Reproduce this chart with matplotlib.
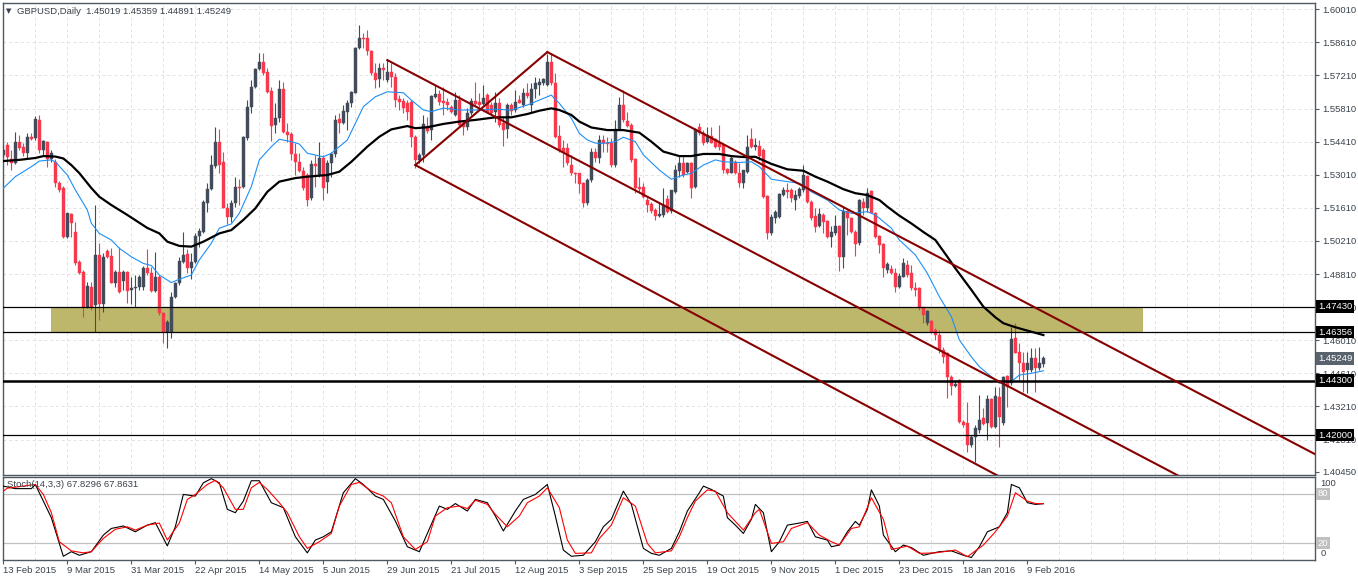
import matplotlib
matplotlib.use("Agg")
import matplotlib.pyplot as plt
import matplotlib.transforms as mtrans
from matplotlib.patches import Rectangle
import numpy as np

plt.rcParams['font.family'] = ['Liberation Sans', 'DejaVu Sans']

# daily candles GBPUSD, bar 0 = 13 Feb 2015
opens = [
    1.5384, 1.5427, 1.5366, 1.5349, 1.5441, 1.5420, 1.5392, 1.5462, 1.5455, 1.5532,
    1.5406, 1.5441, 1.5366, 1.5356, 1.5265, 1.5244, 1.5039, 1.5135, 1.5060, 1.4932,
    1.4889, 1.4740, 1.4827, 1.4750, 1.4961, 1.4754, 1.4978, 1.4957, 1.4842, 1.4891,
    1.4853, 1.4891, 1.4813, 1.4820, 1.4827, 1.4827, 1.4905, 1.4884, 1.4810, 1.4870,
    1.4715, 1.4634, 1.4634, 1.4782, 1.4842, 1.4933, 1.4964, 1.4905, 1.4930, 1.5042,
    1.5060, 1.5183, 1.5239, 1.5339, 1.5438, 1.5353, 1.5161, 1.5123, 1.5183, 1.5250,
    1.5248, 1.5455, 1.5586, 1.5673, 1.5748, 1.5779, 1.5734, 1.5655, 1.5511, 1.5540,
    1.5664, 1.5483, 1.5473, 1.5389, 1.5356, 1.5318, 1.5300, 1.5201, 1.5346, 1.5300,
    1.5370, 1.5271, 1.5349, 1.5387, 1.5535, 1.5518, 1.5565, 1.5603, 1.5648, 1.5836,
    1.5881, 1.5878, 1.5826, 1.5730, 1.5705, 1.5751, 1.5702, 1.5737, 1.5713, 1.5621,
    1.5613, 1.5606, 1.5610, 1.5462, 1.5363, 1.5384, 1.5507, 1.5490, 1.5631, 1.5642,
    1.5614, 1.5610, 1.5589, 1.5554, 1.5617, 1.5518, 1.5504, 1.5561, 1.5614, 1.5607,
    1.5600, 1.5638, 1.5596, 1.5568, 1.5606, 1.5518, 1.5493, 1.5596, 1.5575, 1.5617,
    1.5596, 1.5645, 1.5596, 1.5662, 1.5680, 1.5688, 1.5680, 1.5779, 1.5688, 1.5465,
    1.5413, 1.5413, 1.5342, 1.5309, 1.5307, 1.5265, 1.5180, 1.5279, 1.5398, 1.5370,
    1.5448, 1.5436, 1.5434, 1.5342, 1.5493, 1.5596, 1.5529, 1.5511, 1.5366, 1.5250,
    1.5248, 1.5194, 1.5177, 1.5152, 1.5128, 1.5131, 1.5197, 1.5147, 1.5229, 1.5318,
    1.5349, 1.5314, 1.5349, 1.5248, 1.5504, 1.5476, 1.5441, 1.5465, 1.5451, 1.5441,
    1.5427, 1.5324, 1.5309, 1.5356, 1.5307, 1.5265, 1.5314, 1.5451, 1.5420, 1.5422,
    1.5406, 1.5211, 1.5053, 1.5117, 1.5121, 1.5215, 1.5236, 1.5236, 1.5194, 1.5211,
    1.5236, 1.5296, 1.5187, 1.5126, 1.5084, 1.5131, 1.5106, 1.5036, 1.5053, 1.5084,
    1.4954, 1.5149, 1.5117, 1.5060, 1.5011, 1.5187, 1.5159, 1.5233, 1.5140, 1.5042,
    1.5008, 1.4898, 1.4901, 1.4884, 1.4827, 1.4870, 1.4919, 1.4884, 1.4820, 1.4820,
    1.4740, 1.4672, 1.4683, 1.4644, 1.4623, 1.4560, 1.4546, 1.4447, 1.4408, 1.4433,
    1.4256, 1.4249, 1.4158, 1.4193, 1.4221, 1.4271, 1.4249, 1.4351, 1.4235, 1.4362,
    1.4249, 1.4450, 1.4419, 1.4609, 1.4552, 1.4503, 1.4475, 1.4475, 1.4524, 1.4482,
    1.45019]
highs = [
    1.5427, 1.5441, 1.5406, 1.5480, 1.5469, 1.5434, 1.5476, 1.5479, 1.5549, 1.5554,
    1.5448, 1.5445, 1.5406, 1.5366, 1.5274, 1.5253, 1.5140, 1.5139, 1.5102, 1.4940,
    1.4898, 1.4848, 1.4848, 1.5173, 1.5011, 1.4969, 1.4985, 1.4990, 1.4898, 1.4996,
    1.4898, 1.4894, 1.4870, 1.4877, 1.4877, 1.4915, 1.4985, 1.4912, 1.4975, 1.4875,
    1.4720, 1.4686, 1.4806, 1.4847, 1.4954, 1.5060, 1.4985, 1.4969, 1.5053, 1.5074,
    1.5194, 1.5265, 1.5384, 1.5502, 1.5493, 1.5398, 1.5183, 1.5194, 1.5293, 1.5282,
    1.5465, 1.5617, 1.5702, 1.5751, 1.5815, 1.5815, 1.5751, 1.5673, 1.5603, 1.5702,
    1.5694, 1.5518, 1.5483, 1.5434, 1.5392, 1.5335, 1.5307, 1.5363, 1.5384, 1.5441,
    1.5384, 1.5363, 1.5398, 1.5554, 1.5561, 1.5596, 1.5617, 1.5655, 1.5842, 1.5934,
    1.5899, 1.5913, 1.5829, 1.5772, 1.5772, 1.5772, 1.5789, 1.5772, 1.5730, 1.5638,
    1.5624, 1.5617, 1.5617, 1.5469, 1.5392, 1.5554, 1.5546, 1.5638, 1.5680, 1.5659,
    1.5673, 1.5624, 1.5596, 1.5652, 1.5638, 1.5532, 1.5582, 1.5624, 1.5692, 1.5645,
    1.5680, 1.5645, 1.5610, 1.5652, 1.5624, 1.5546, 1.5603, 1.5603, 1.5659, 1.5638,
    1.5666, 1.5688, 1.5688, 1.5716, 1.5709, 1.5710, 1.5812, 1.5815, 1.5730, 1.5511,
    1.5448, 1.5434, 1.5384, 1.5314, 1.5309, 1.5271, 1.5287, 1.5413, 1.5413, 1.5469,
    1.5469, 1.5462, 1.5455, 1.5532, 1.5631, 1.5659, 1.5568, 1.5518, 1.5370, 1.5293,
    1.5265, 1.5208, 1.5187, 1.5159, 1.5180, 1.5244, 1.5215, 1.5236, 1.5342, 1.5384,
    1.5384, 1.5356, 1.5356, 1.5497, 1.5518, 1.5490, 1.5504, 1.5504, 1.5455, 1.5511,
    1.5434, 1.5328, 1.5384, 1.5363, 1.5349, 1.5321, 1.5469, 1.5497, 1.5455, 1.5448,
    1.5413, 1.5215, 1.5135, 1.5152, 1.5222, 1.5250, 1.5265, 1.5244, 1.5236, 1.5250,
    1.5342, 1.5300, 1.5194, 1.5159, 1.5159, 1.5138, 1.5109, 1.5084, 1.5131, 1.5088,
    1.5163, 1.5152, 1.5123, 1.5067, 1.5197, 1.5201, 1.5244, 1.5236, 1.5145, 1.5046,
    1.5011, 1.4933, 1.4919, 1.4905, 1.4884, 1.4947, 1.4940, 1.4919, 1.4848, 1.4827,
    1.4743, 1.4729, 1.4686, 1.4651, 1.4644, 1.4573, 1.4552, 1.4454, 1.4433, 1.4436,
    1.4263, 1.4341, 1.4200, 1.4242, 1.4369, 1.4313, 1.4369, 1.4355, 1.4404, 1.4404,
    1.4450, 1.4452, 1.4658, 1.4672, 1.4588, 1.4552, 1.4552, 1.4567, 1.4567, 1.4573,
    1.45359]
lows = [
    1.5377, 1.5342, 1.5321, 1.5345, 1.5406, 1.5380, 1.5370, 1.5448, 1.5448, 1.5392,
    1.5380, 1.5335, 1.5356, 1.5250, 1.5228, 1.5033, 1.5032, 1.5036, 1.4919, 1.4881,
    1.4700, 1.4736, 1.4729, 1.4637, 1.4686, 1.4720, 1.4947, 1.4842, 1.4827, 1.4799,
    1.4813, 1.4757, 1.4754, 1.4743, 1.4813, 1.4813, 1.4877, 1.4806, 1.4806, 1.4708,
    1.4590, 1.4567, 1.4609, 1.4780, 1.4834, 1.4926, 1.4886, 1.4859, 1.4926, 1.4996,
    1.5053, 1.5145, 1.5236, 1.5328, 1.5307, 1.5159, 1.5092, 1.5102, 1.5166, 1.5173,
    1.5244, 1.5448, 1.5561, 1.5666, 1.5744, 1.5723, 1.5645, 1.5445, 1.5476, 1.5525,
    1.5476, 1.5441, 1.5363, 1.5300, 1.5314, 1.5236, 1.5169, 1.5194, 1.5250, 1.5293,
    1.5194, 1.5222, 1.5293, 1.5377, 1.5476, 1.5515, 1.5490, 1.5586, 1.5645, 1.5831,
    1.5836, 1.5807, 1.5723, 1.5666, 1.5673, 1.5702, 1.5694, 1.5673, 1.5589, 1.5575,
    1.5561, 1.5532, 1.5420, 1.5328, 1.5349, 1.5356, 1.5476, 1.5448, 1.5624, 1.5596,
    1.5554, 1.5575, 1.5561, 1.5550, 1.5504, 1.5469, 1.5490, 1.5554, 1.5596, 1.5589,
    1.5596, 1.5561, 1.5554, 1.5525, 1.5504, 1.5422, 1.5455, 1.5554, 1.5568, 1.5603,
    1.5589, 1.5625, 1.5561, 1.5624, 1.5638, 1.5680, 1.5675, 1.5680, 1.5455, 1.5398,
    1.5335, 1.5342, 1.5300, 1.5265, 1.5222, 1.5166, 1.5173, 1.5271, 1.5356, 1.5349,
    1.5398, 1.5398, 1.5332, 1.5335, 1.5490, 1.5525, 1.5504, 1.5356, 1.5222, 1.5229,
    1.5201, 1.5145, 1.5140, 1.5109, 1.5123, 1.5123, 1.5140, 1.5140, 1.5222, 1.5293,
    1.5293, 1.5307, 1.5201, 1.5244, 1.5469, 1.5427, 1.5434, 1.5434, 1.5413, 1.5406,
    1.5309, 1.5304, 1.5307, 1.5303, 1.5250, 1.5244, 1.5307, 1.5413, 1.5406, 1.5363,
    1.5201, 1.5028, 1.5046, 1.5095, 1.5117, 1.5211, 1.5201, 1.5187, 1.5152, 1.5201,
    1.5229, 1.5180, 1.5109, 1.5060, 1.5081, 1.5056, 1.5032, 1.4994, 1.5046, 1.4895,
    1.4905, 1.5046, 1.5056, 1.4957, 1.5004, 1.5131, 1.5145, 1.5138, 1.5032, 1.4969,
    1.4867, 1.4886, 1.4881, 1.4806, 1.4820, 1.4867, 1.4870, 1.4813, 1.4788, 1.4729,
    1.4672, 1.4665, 1.4630, 1.4602, 1.4546, 1.4503, 1.4355, 1.4369, 1.4404, 1.4249,
    1.4235, 1.4129, 1.4150, 1.4087, 1.4207, 1.4242, 1.4179, 1.4228, 1.4228, 1.4150,
    1.4242, 1.4320, 1.4411, 1.4546, 1.4433, 1.4383, 1.4376, 1.4468, 1.4383, 1.4475,
    1.44891]
closes = [
    1.5406, 1.5377, 1.5352, 1.5441, 1.5413, 1.5394, 1.5462, 1.5453, 1.5535, 1.5406,
    1.5445, 1.5366, 1.5392, 1.5265, 1.5236, 1.5039, 1.5138, 1.5095, 1.4926, 1.4886,
    1.4743, 1.4831, 1.4743, 1.4961, 1.4754, 1.4954, 1.4954, 1.4842, 1.4891, 1.4806,
    1.4891, 1.4810, 1.4822, 1.4827, 1.4870, 1.4905, 1.4884, 1.4810, 1.4870, 1.4715,
    1.4634, 1.4679, 1.4785, 1.4842, 1.4937, 1.4961, 1.4908, 1.4930, 1.5042, 1.5064,
    1.5187, 1.5239, 1.5342, 1.5441, 1.5342, 1.5161, 1.5123, 1.5183, 1.5250, 1.5244,
    1.5462, 1.5586, 1.5673, 1.5748, 1.5776, 1.5730, 1.5652, 1.5507, 1.5542, 1.5664,
    1.5483, 1.5469, 1.5387, 1.5356, 1.5318, 1.5244, 1.5194, 1.5346, 1.5338, 1.5370,
    1.5244, 1.5349, 1.5389, 1.5532, 1.5518, 1.5572, 1.5606, 1.5652, 1.5836, 1.5878,
    1.5875, 1.5826, 1.5730, 1.5702, 1.5751, 1.5744, 1.5737, 1.5713, 1.5617, 1.5610,
    1.5582, 1.5568, 1.5462, 1.5363, 1.5384, 1.5515, 1.5487, 1.5634, 1.5642, 1.5610,
    1.5603, 1.5596, 1.5568, 1.5617, 1.5511, 1.5502, 1.5561, 1.5614, 1.5600, 1.5596,
    1.5624, 1.5568, 1.5563, 1.5603, 1.5511, 1.5490, 1.5596, 1.5572, 1.5610, 1.5606,
    1.5645, 1.5634, 1.5662, 1.5688, 1.5694, 1.5705, 1.5779, 1.5688, 1.5462, 1.5406,
    1.5398, 1.5349, 1.5307, 1.5304, 1.5262, 1.5180, 1.5279, 1.5398, 1.5370, 1.5448,
    1.5434, 1.5431, 1.5342, 1.5493, 1.5596, 1.5532, 1.5507, 1.5363, 1.5244, 1.5239,
    1.5205, 1.5173, 1.5147, 1.5126, 1.5134, 1.5173, 1.5145, 1.5236, 1.5321, 1.5349,
    1.5300, 1.5349, 1.5244, 1.5490, 1.5476, 1.5434, 1.5469, 1.5436, 1.5420, 1.5420,
    1.5321, 1.5307, 1.5370, 1.5307, 1.5265, 1.5321, 1.5420, 1.5417, 1.5427, 1.5380,
    1.5208, 1.5053, 1.5121, 1.5145, 1.5219, 1.5236, 1.5229, 1.5201, 1.5215, 1.5239,
    1.5300, 1.5187, 1.5119, 1.5081, 1.5134, 1.5102, 1.5036, 1.5060, 1.5084, 1.4954,
    1.5149, 1.5117, 1.5060, 1.5008, 1.5194, 1.5159, 1.5225, 1.5140, 1.5039, 1.5004,
    1.4905, 1.4923, 1.4884, 1.4827, 1.4873, 1.4929, 1.4877, 1.4820, 1.4813, 1.4736,
    1.4708, 1.4726, 1.4637, 1.4623, 1.4560, 1.4531, 1.4447, 1.4408, 1.4416, 1.4256,
    1.4242, 1.4158, 1.4193, 1.4228, 1.4263, 1.4246, 1.4351, 1.4235, 1.4365, 1.4277,
    1.4447, 1.4404, 1.4606, 1.4548, 1.4503, 1.4468, 1.4503, 1.4524, 1.4482, 1.4503,
    1.45249]

# moving averages (bar, price)
ma_fast_bar = [0, 3, 7, 9, 12, 13, 16, 18, 21, 22, 24, 27, 29, 32, 35, 37, 39, 42, 44, 47,
               49, 52, 54, 57, 59, 62, 64, 67, 69, 72, 74, 76, 80, 82, 86, 90, 93, 96, 100, 102,
               105, 107, 110, 114, 118, 123, 127, 131, 134, 137, 139, 142, 144, 146, 148, 150, 153, 155, 158, 160,
               164, 167, 170, 172, 175, 178, 180, 184, 187, 189, 192, 196, 199, 202, 206, 209, 212, 216, 218, 222,
               224, 228, 231, 234, 237, 239, 242, 244, 247, 249, 252, 254, 257, 260]
ma_fast = [1.5244, 1.5293, 1.5335, 1.5359, 1.5364, 1.5356, 1.5300, 1.5237, 1.5152, 1.5096,
           1.5053, 1.5025, 1.4990, 1.4954, 1.4926, 1.4917, 1.4877, 1.4845, 1.4859, 1.4877,
           1.4941, 1.5011, 1.5075, 1.5093, 1.5138, 1.5251, 1.5364, 1.5420, 1.5451, 1.5441,
           1.5431, 1.5392, 1.5377, 1.5392, 1.5448, 1.5589, 1.5631, 1.5652, 1.5648, 1.5617,
           1.5575, 1.5568, 1.5583, 1.5575, 1.5575, 1.5578, 1.5575, 1.5596, 1.5617, 1.5638,
           1.5603, 1.5540, 1.5476, 1.5448, 1.5435, 1.5434, 1.5441, 1.5460, 1.5441, 1.5385,
           1.5321, 1.5282, 1.5300, 1.5307, 1.5342, 1.5364, 1.5356, 1.5353, 1.5356, 1.5335,
           1.5282, 1.5272, 1.5265, 1.5229, 1.5194, 1.5152, 1.5138, 1.5145, 1.5131, 1.5075,
           1.5025, 1.4962, 1.4884, 1.4785, 1.4701, 1.4602, 1.4531, 1.4489, 1.4447, 1.4419,
           1.4426, 1.4454, 1.4461, 1.4472]
ma_slow_bar = [0, 4, 8, 10, 13, 15, 17, 19, 22, 24, 27, 31, 34, 36, 39, 41, 44, 47, 50, 54,
               57, 60, 63, 66, 69, 73, 76, 81, 84, 87, 91, 94, 97, 101, 103, 106, 110, 114, 118, 123,
               127, 131, 134, 137, 139, 142, 144, 147, 151, 155, 159, 162, 165, 169, 172, 175, 179, 182, 185, 188,
               192, 196, 200, 203, 206, 210, 213, 216, 219, 221, 224, 227, 230, 233, 236, 238, 242, 245, 248, 250, 253,
               257, 260]
ma_slow = [1.5359, 1.5364, 1.5372, 1.5380, 1.5378, 1.5370, 1.5342, 1.5308, 1.5245, 1.5208,
           1.5173, 1.5131, 1.5098, 1.5076, 1.5053, 1.5018, 1.5000, 1.4997, 1.5018, 1.5053,
           1.5067, 1.5110, 1.5159, 1.5229, 1.5272, 1.5287, 1.5293, 1.5300, 1.5314, 1.5356,
           1.5420, 1.5462, 1.5493, 1.5507, 1.5498, 1.5502, 1.5516, 1.5526, 1.5533, 1.5544,
           1.5544, 1.5558, 1.5572, 1.5582, 1.5575, 1.5554, 1.5526, 1.5501, 1.5490, 1.5490,
           1.5479, 1.5441, 1.5399, 1.5380, 1.5380, 1.5389, 1.5389, 1.5380, 1.5376, 1.5377,
           1.5347, 1.5324, 1.5318, 1.5293, 1.5272, 1.5240, 1.5223, 1.5215, 1.5194, 1.5166,
           1.5128, 1.5095, 1.5059, 1.5025, 1.4954, 1.4905, 1.4814, 1.4743, 1.4698, 1.4673, 1.4656,
           1.4637, 1.4623]

# stochastic (14,3,3)
stoch_k_bar = [0, 3, 7, 8, 11, 12, 14, 15, 17, 19, 22, 25, 27, 30, 33, 36, 38, 41, 43, 45,
               48, 50, 52, 54, 56, 58, 60, 62, 64, 67, 70, 73, 76, 78, 80, 82, 85, 88, 90, 93,
               95, 98, 101, 104, 106, 109, 111, 113, 116, 118, 121, 123, 125, 128, 130, 133, 136, 138, 140, 142,
               145, 148, 150, 152, 155, 157, 160, 162, 164, 167, 169, 171, 174, 175, 177, 180, 181, 183, 185, 187,
               188, 190, 192, 194, 196, 199, 201, 203, 206, 207, 209, 211, 213, 214, 216, 217, 219, 220, 223, 225,
               227, 230, 232, 234, 237, 240, 242, 244, 246, 249, 251, 252, 254, 256, 258, 260]
stoch_k = [89, 86, 86, 91, 61, 51, 20, 4.5, 10, 5.7, 10, 30, 38, 41, 34, 42, 45, 17, 40, 79,
           77, 93, 98, 93, 61, 57, 71, 95.5, 95.5, 69, 63, 28, 8.6, 24, 28, 34, 81, 98, 91, 77,
           73, 47, 16, 10, 32, 65, 61, 68, 59, 73, 69, 53, 35, 59, 73, 79, 91, 53, 12, 4.5,
           5.7, 22, 40, 49, 83, 67, 14, 8, 5.7, 14, 34, 59, 81, 89, 85, 77, 51, 42, 32, 49,
           67, 57, 10, 22, 42, 44.5, 46.5, 28, 24, 16, 18, 34, 46.5, 42, 61, 84.5, 65, 30, 10, 18,
           15, 5.7, 8, 10, 11, 5.7, 3, 16, 34, 40, 57, 91, 87, 69, 67, 67.83]
stoch_d_bar = [0, 1, 8, 10, 12, 14, 17, 20, 22, 25, 28, 31, 33, 36, 39, 41, 44, 46, 48, 51,
               53, 55, 58, 60, 62, 64, 66, 69, 71, 74, 76, 79, 82, 84, 87, 89, 92, 95, 97, 100,
               103, 106, 108, 111, 114, 116, 118, 121, 123, 126, 129, 131, 134, 136, 139, 141, 143, 147, 149, 152,
               155, 158, 161, 163, 167, 169, 171, 173, 176, 178, 181, 185, 188, 189, 192, 195, 197, 201, 204, 207,
               209, 212, 214, 217, 220, 222, 226, 229, 233, 238, 241, 245, 248, 251, 253, 256, 258, 260]
stoch_d = [83, 86.5, 91, 79, 57, 22, 11, 8.6, 10, 26, 37, 40, 36, 42, 44.5, 24, 44.5, 73, 79, 91,
           96, 87, 61, 61, 87, 93.5, 85, 69, 57, 28, 14, 22, 32, 65, 91, 93.5, 83, 77, 69, 28,
           12.7, 22, 53, 63, 65, 62, 72, 67, 55, 40, 53, 69, 77, 87, 63, 24, 8, 8.6, 26, 42,
           75, 65, 20, 8.6, 11, 28, 51, 71, 84.5, 83, 57, 36, 57, 61, 20, 22, 38, 45, 30, 22,
           18, 38, 40, 75, 49, 12.7, 16.7, 8, 8.6, 12, 4, 18, 34, 53, 81, 71, 68, 67.86]

# drawn objects
levels_thin = [1.47430, 1.46356, 1.42000]
level_thick = 1.44300
zone_bars = [12, 285]
zone_prices = [1.46356, 1.47430]
chan_upper = [(136, 1.5820), (260, 1.4721)]
chan_mid = [(96, 1.5786), (260, 1.4328)]
chan_lower = [(103, 1.5342), (221, 1.4277)]
last_price = 1.45249

price_ticks = [1.60010, 1.58610, 1.57210, 1.55810, 1.54410, 1.53010, 1.51610, 1.50210,
               1.48810, 1.47410, 1.46010, 1.44610, 1.43210, 1.41810, 1.40450]
date_bars = list(range(0, 257, 16))
date_labels = ["13 Feb 2015", "9 Mar 2015", "31 Mar 2015", "22 Apr 2015", "14 May 2015",
               "5 Jun 2015", "29 Jun 2015", "21 Jul 2015", "12 Aug 2015", "3 Sep 2015",
               "25 Sep 2015", "19 Oct 2015", "9 Nov 2015", "1 Dec 2015", "23 Dec 2015",
               "18 Jan 2016", "9 Feb 2016"]

BULL = '#414b5a'
BEAR = '#f43a4c'
FRAME = '#4f5963'
TXT = '#39424c'
GRID = '#e2e2e2'
FS = 6.8

fig = plt.figure(figsize=(13.58, 5.81), dpi=100)
ax = fig.add_axes([3/1358, 1-475/581, 1312/1358, 472/581])
ax2 = fig.add_axes([3/1358, 1-560/581, 1312/1358, 83/581])

xmin, xmax = -0.08, 327.9
for a in (ax, ax2):
    a.set_xlim(xmin, xmax)
    for s in a.spines.values():
        s.set_color(FRAME)
        s.set_linewidth(1)
    a.set_xticks(np.arange(0, 328, 8), minor=True)
    a.grid(which='minor', axis='x', color=GRID, linestyle=(0, (3, 3)), linewidth=0.7)
    a.set_axisbelow(True)

ax.set_ylim(1.40310, 1.60276)
ax.set_xticks([])
ax.tick_params(axis='x', which='both', length=0)
ax.yaxis.tick_right()
ax.set_yticks(price_ticks)
ax.set_yticklabels([f"{v:.5f}" for v in price_ticks])
ax.tick_params(axis='y', direction='out', length=3, width=0.8, pad=2,
               labelsize=FS, colors=FRAME, labelcolor=TXT)
for v in price_ticks[:-1]:
    ax.axhline(v, color=GRID, linestyle=(0, (3, 3)), linewidth=0.7, zorder=0)

# zone and horizontal levels
ax.add_patch(Rectangle((zone_bars[0], zone_prices[0]), zone_bars[1] - zone_bars[0],
                       zone_prices[1] - zone_prices[0], facecolor='#bdb76b',
                       edgecolor='none', zorder=1))
for lv in levels_thin:
    ax.axhline(lv, color='black', linewidth=0.9, zorder=5)
ax.axhline(level_thick, color='black', linewidth=1.8, zorder=5)

# candles
o = np.array(opens)
h = np.array(highs)
l = np.array(lows)
c = np.array(closes)
x = np.arange(len(c))
col = np.where(c >= o, BULL, BEAR)
ax.vlines(x, l, h, colors=col, linewidth=0.8, zorder=3)
ax.bar(x, c - o, bottom=o, width=0.72, color=col, edgecolor=col,
       linewidth=0.3, zorder=3)

# moving averages
ax.plot(ma_fast_bar, ma_fast, color='#1e8ff5', linewidth=0.8, zorder=4)
ax.plot(ma_slow_bar, ma_slow, color='black', linewidth=1.6, zorder=4)

# channel
def ray(pts):
    (x1, y1), (x2, y2) = pts
    k = (y2 - y1) / (x2 - x1)
    return [x1, xmax + 5], [y1, y1 + k * (xmax + 5 - x1)]

for pts in (chan_upper, chan_mid, chan_lower):
    xs, ys = ray(pts)
    ax.plot(xs, ys, color='#860000', linewidth=1.5, zorder=6)
ax.plot([chan_lower[0][0], chan_upper[0][0]], [chan_lower[0][1], chan_upper[0][1]],
        color='#860000', linewidth=1.5, zorder=6)

# right-hand price boxes
tr = mtrans.blended_transform_factory(ax.transAxes, ax.transData)
for lv in levels_thin + [level_thick]:
    ax.text(1.0022, lv, f"{lv:.5f}", transform=tr, ha='left', va='center',
            fontsize=FS, color='white', zorder=20, clip_on=False,
            bbox=dict(boxstyle='square,pad=0.2', fc='black', ec='none'))
ax.text(1.0022, last_price, f"{last_price:.5f}", transform=tr, ha='left', va='center',
        fontsize=FS, color='white', zorder=20, clip_on=False,
        bbox=dict(boxstyle='square,pad=0.2', fc='#59636e', ec='none'))

# title
fig.text(6/1358, 1 - 11/581, "\u25bc", fontsize=5, color=TXT, va='center',
         family=['DejaVu Sans'])
fig.text(17/1358, 1 - 11/581, "GBPUSD,Daily  1.45019 1.45359 1.44891 1.45249",
         fontsize=FS, color=TXT, va='center')

# stochastic window
ax2.set_ylim(0, 100)
ax2.set_yticks([])
ax2.axhline(80, color='#c0c0c0', linewidth=0.9, zorder=1)
ax2.axhline(20, color='#c0c0c0', linewidth=0.9, zorder=1)
ax2.plot(stoch_k_bar, stoch_k, color='black', linewidth=0.8, zorder=3)
ax2.plot(stoch_d_bar, stoch_d, color='#ff0000', linewidth=0.8, zorder=3)
ax2.set_xticks(date_bars)
ax2.set_xticklabels(date_labels, ha='left')
ax2.tick_params(axis='x', which='major', direction='out', length=3, width=0.8,
                pad=1.5, labelsize=FS, colors=FRAME, labelcolor=TXT)
ax2.tick_params(axis='x', which='minor', length=0)
ax2.text(4/1312, 91, "Stoch(14,3,3) 67.8296 67.8631", fontsize=FS, color=TXT,
         va='center', ha='left', zorder=10,
         transform=mtrans.blended_transform_factory(ax2.transAxes, ax2.transData))
tr2 = mtrans.blended_transform_factory(ax2.transAxes, ax2.transData)
ax2.text(1.004, 92.5, "100", transform=tr2, fontsize=FS, color=TXT, va='center',
         clip_on=False)
ax2.text(1.004, 8, "0", transform=tr2, fontsize=FS, color=TXT, va='center',
         clip_on=False)
for lv in (80, 20):
    ax2.text(1.0022, lv, str(lv), transform=tr2, fontsize=FS, color='white',
             va='center', clip_on=False,
             bbox=dict(boxstyle='square,pad=0.15', fc='#c0c0c0', ec='none'))

fig.savefig("out.png", dpi=100, facecolor='white')
